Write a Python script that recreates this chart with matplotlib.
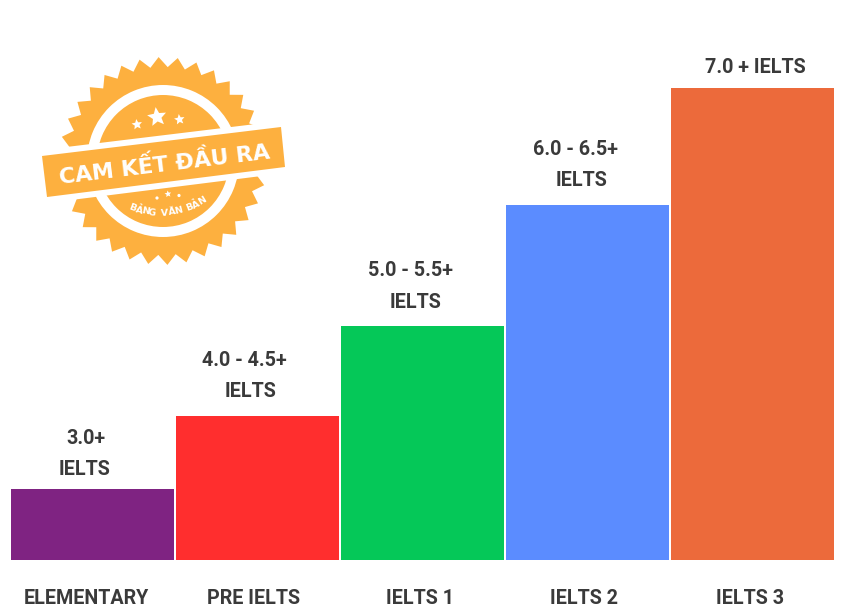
import numpy as np
import matplotlib
matplotlib.use("Agg")
import matplotlib.pyplot as plt
from matplotlib.patches import Polygon, Circle, Wedge
from matplotlib.textpath import TextPath
from matplotlib.font_manager import FontProperties

# ── data ───────────────────────────────────────
levels = ["ELEMENTARY", "PRE IELTS", "IELTS 1", "IELTS 2", "IELTS 3"]
bar_heights = [71, 144, 234, 355, 472]
bar_colors = ["#7F2382", "#FF2E2E", "#05C858", "#5B8CFF", "#EC6A3B"]
score_lines = [["3.0+", "IELTS"], ["4.0 - 4.5+", "IELTS"], ["5.0 - 5.5+", "IELTS"],
               ["6.0 - 6.5+", "IELTS"], ["7.0 + IELTS"]]
badge_title = "CAM KẾT ĐẦU RA"
badge_sub = "BẢNG VĂN BẢN"

# ── layout (pixels) ────────────────────────────
W, H = 843, 613
BASE_Y = 560
TEXT = "#3A3A3A"
BADGE = "#FDB03F"
plt.rcParams["font.family"] = ["Roboto", "DejaVu Sans"]

fig = plt.figure(figsize=(W / 100, H / 100), dpi=100, facecolor="white")

# bars
ax = fig.add_axes([10 / W, 1 - BASE_Y / H, 825 / W, BASE_Y / H])
x = np.arange(len(levels))
ax.bar(x, bar_heights, width=163 / 165, color=bar_colors)
ax.set_xlim(-0.5, 4.5)
ax.set_ylim(0, BASE_Y)
ax.axis("off")

first_dx = [-7, -13, -12, -12, 3]
second_dx = [-8, -7, -7, -6, 0]
top_gap = [19.5, 24.5, 24, 24.5, 20.5]
level_dx = [-6.5, -4, -3, -3, -2]
for i, lines in enumerate(score_lines):
    dxs = [first_dx[i], second_dx[i]] if len(lines) == 2 else [first_dx[i]]
    for j, line in enumerate(lines):
        up = top_gap[i] + 31 * (len(lines) - 1 - j)
        ax.annotate(line, (x[i], bar_heights[i]), xytext=(dxs[j] * 0.72, up * 0.72),
                    textcoords="offset points", ha="center", va="center",
                    fontsize=14.2, fontweight="bold", color=TEXT)
    ax.annotate(levels[i], (x[i], 0), xytext=(level_dx[i] * 0.72, -38 * 0.72),
                textcoords="offset points", ha="center", va="center",
                fontsize=14.2, fontweight="bold", color=TEXT, annotation_clip=False)

# ── badge, drawn in pixel coordinates ──────────
ov = fig.add_axes([0, 0, 1, 1])
ov.set_xlim(0, W)
ov.set_ylim(H, 0)
ov.axis("off")
ov.patch.set_alpha(0)

cx, cy = 163, 161
teeth = 34
ang = np.linspace(0, 2 * np.pi, teeth * 2, endpoint=False) + 0.05
rad = np.where(np.arange(teeth * 2) % 2 == 0, 104, 94)
ov.add_patch(Polygon(np.c_[cx + rad * np.cos(ang), cy + rad * np.sin(ang)], fc=BADGE, ec="none"))
ov.add_patch(Wedge((cx, cy), 76, 0, 360, width=10, fc="white", ec="none"))


def star(px, py, r, rot=0.0):
    a = np.linspace(0, 2 * np.pi, 10, endpoint=False) - np.pi / 2 + rot
    rr = np.where(np.arange(10) % 2 == 0, r, r * 0.45)
    ov.add_patch(Polygon(np.c_[px + rr * np.cos(a), py + rr * np.sin(a)], fc="white", ec="none"))


star(157, 117, 10, -0.14)
star(137, 124.5, 5.5, -0.14)
star(179.5, 119.5, 5.5, -0.14)
star(168, 194, 3.5, -0.14)
ov.add_patch(Circle((157, 198), 1.6, fc="white", ec="none"))
ov.add_patch(Circle((179, 195.5), 1.6, fc="white", ec="none"))

# ribbon, with white margin cut out of the badge
corners = np.array([[42, 156], [281, 127], [285, 167], [47, 197]], dtype=float)
tilt = np.degrees(np.arctan2(29, 239))
v = (corners[3] - corners[0]) / np.linalg.norm(corners[3] - corners[0])
margin = np.array([-6 * v, -6 * v, 6 * v, 6 * v])
ov.add_patch(Polygon(corners + margin, fc="white", ec="none"))
ov.add_patch(Polygon(corners, fc=BADGE, ec="none"))
ov.text(164, 164, badge_title, rotation=tilt, rotation_mode="anchor", ha="center", va="center",
        fontsize=15.8, fontweight="bold", color="white", family=["DejaVu Sans"])

# curved caption, one letter at a time
fp = FontProperties(family="DejaVu Sans", weight="bold", size=6.8)
widths = [TextPath((0, 0), c if c != " " else "n", prop=fp).get_extents().width * 1.3 + 0.6
          for c in badge_sub]
arc_c = np.array([160.0, 133.0])
arc_r = 80.0
s = np.cumsum(widths) - np.array(widths) / 2 - sum(widths) / 2
mid = np.arctan2(212 - arc_c[1], 168 - arc_c[0])
for ch, d in zip(badge_sub, s):
    t = mid - d / arc_r
    ov.text(arc_c[0] + arc_r * np.cos(t), arc_c[1] + arc_r * np.sin(t), ch,
            rotation=np.degrees(np.pi / 2 - t), rotation_mode="anchor", ha="center", va="center",
            fontsize=6.8, fontweight="bold", color="white", family=["DejaVu Sans"])

fig.savefig("out.png", dpi=100, facecolor="white")
